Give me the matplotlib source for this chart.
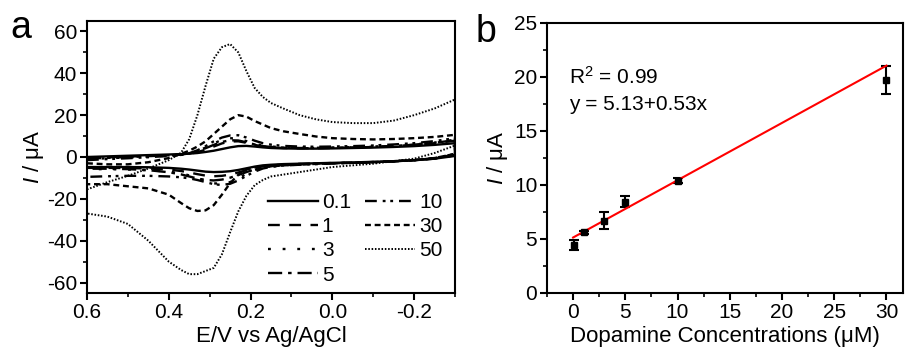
import matplotlib
matplotlib.use('Agg')
import matplotlib.pyplot as plt
from matplotlib.ticker import MultipleLocator

plt.rcParams['font.family'] = ['Liberation Sans', 'DejaVu Sans']
plt.rcParams['font.size'] = 15
plt.rcParams['axes.unicode_minus'] = False
plt.rcParams['mathtext.fontset'] = 'custom'
plt.rcParams['mathtext.rm'] = 'Liberation Sans'
plt.rcParams['mathtext.it'] = 'Liberation Sans:italic'

# ---- panel a: cyclic voltammograms (potential in V, current in uA) ----
# forward branch goes 0.6 -> -0.3, the return branch comes back the same way
e_fwd = [0.6, 0.55, 0.5, 0.45, 0.4, 0.37, 0.35, 0.33, 0.31, 0.29, 0.27, 0.25, 0.23,
         0.21, 0.19, 0.17, 0.15, 0.12, 0.08, 0.04, 0.0, -0.05, -0.1, -0.15, -0.2,
         -0.25, -0.3]
e_back = e_fwd[::-1]

upper_01 = [0, 0.3, 0.6, 0.9, 1.2, 1.4, 1.6, 1.9, 2.4, 3.0, 3.8, 4.6, 5.2, 5.3, 5.0,
            4.6, 4.3, 4.1, 4.0, 4.0, 4.1, 4.3, 4.5, 4.8, 5.2, 5.8, 6.6]
lower_01 = [0.5, -0.8, -1.5, -2.0, -2.3, -2.6, -2.8, -3.0, -3.2, -3.4, -3.7, -4.0,
            -4.6, -5.4, -6.2, -6.8, -7.1, -7.2, -7.0, -6.5, -6.0, -5.6, -5.2, -4.9,
            -4.8, -4.8, -4.8]

upper_1 = [-0.5, -0.2, 0.2, 0.5, 0.8, 1.1, 1.5, 2.3, 3.5, 5.0, 6.5, 7.4, 7.5, 6.8,
           5.8, 5.0, 4.6, 4.3, 4.2, 4.2, 4.3, 4.5, 4.8, 5.2, 5.8, 6.6, 7.8]
lower_1 = [0.8, -0.8, -1.6, -2.1, -2.4, -2.7, -2.9, -3.1, -3.3, -3.6, -4.0, -4.5,
           -5.3, -6.3, -7.4, -8.4, -9.0, -9.2, -8.9, -8.2, -7.4, -6.7, -6.0, -5.5,
           -5.3, -5.2, -5.2]

upper_3 = [-1.0, -0.6, -0.2, 0.2, 0.6, 1.0, 1.6, 2.8, 4.5, 6.5, 8.2, 9.0, 8.7, 7.6,
           6.3, 5.4, 5.0, 4.6, 4.4, 4.4, 4.5, 4.7, 5.0, 5.4, 6.0, 6.9, 8.2]
lower_3 = [1.2, -0.6, -1.5, -2.0, -2.4, -2.7, -2.9, -3.1, -3.4, -3.8, -4.3, -5.0,
           -6.2, -8.0, -10.2, -12.0, -12.8, -12.6, -11.5, -10.0, -8.8, -7.8, -7.0,
           -6.3, -6.0, -5.8, -5.8]

upper_5 = [-0.8, -0.4, 0.0, 0.4, 0.8, 1.2, 1.7, 2.7, 4.2, 5.8, 7.2, 8.0, 7.9, 7.0,
           6.0, 5.2, 4.8, 4.5, 4.3, 4.3, 4.4, 4.6, 4.9, 5.3, 5.9, 6.8, 8.0]
lower_5 = [1.0, -0.7, -1.6, -2.1, -2.5, -2.8, -3.0, -3.2, -3.5, -3.9, -4.4, -5.0,
           -6.0, -7.2, -8.6, -9.9, -10.8, -11.2, -11.0, -10.3, -9.3, -8.3, -7.3,
           -6.3, -5.8, -5.6, -5.6]

upper_10 = [-1.5, -1.0, -0.6, -0.1, 0.5, 1.0, 1.8, 3.2, 5.2, 7.5, 9.3, 10.3, 10.4,
            9.3, 7.8, 6.6, 5.9, 5.3, 5.0, 4.9, 5.0, 5.2, 5.5, 6.0, 6.6, 7.6, 9.0]
lower_10 = [1.5, -0.5, -1.5, -2.1, -2.5, -2.8, -3.1, -3.4, -3.7, -4.1, -4.7, -5.5,
            -7.0, -9.0, -11.2, -12.8, -13.4, -13.0, -12.0, -11.0, -10.2, -9.7, -9.3,
            -9.0, -9.0, -9.2, -9.5]

upper_30 = [-3.0, -3.5, -3.5, -2.5, -0.5, 1.5, 3.0, 5.0, 7.5, 11.0, 14.5, 18.0, 20.0,
            19.3, 17.2, 15.5, 13.8, 12.3, 11.0, 9.8, 9.0, 8.6, 8.4, 8.6, 9.0, 9.6,
            10.6]
lower_30 = [1.5, -0.5, -1.5, -2.0, -2.5, -2.8, -3.0, -3.3, -3.6, -4.0, -4.5, -4.8,
            -5.0, -6.0, -8.5, -12.5, -18.0, -23.0, -25.5, -25.8, -24.5, -22.0,
            -18.0, -15.0, -14.0, -13.0, -13.0]

upper_50 = [-15.5, -12.0, -9.0, -5.5, -1.5, 2.0, 8.5, 20.0, 34.0, 47.0, 52.5, 54.0,
            50.0, 41.0, 33.0, 28.7, 25.8, 23.2, 20.0, 18.0, 16.7, 16.2, 16.2, 17.4,
            20.0, 23.2, 27.5]
lower_50 = [5.5, 1.9, -0.8, -2.0, -3.2, -4.0, -4.8, -6.0, -7.2, -8.4, -9.3, -11.0,
            -13.5, -18.5, -26.0, -36.0, -46.5, -53.0, -54.5, -56.0, -56.0, -54.0,
            -50.0, -40.0, -32.0, -28.5, -27.0]

cv_labels = ['0.1', '1', '3', '5', '10', '30', '50']
cv_upper = [upper_01, upper_1, upper_3, upper_5, upper_10, upper_30, upper_50]
cv_lower = [lower_01, lower_1, lower_3, lower_5, lower_10, lower_30, lower_50]

# ---- panel b: calibration ----
conc = [0.1, 1, 3, 5, 10, 30]
current = [4.45, 5.6, 6.7, 8.45, 10.4, 19.7]
current_err = [0.45, 0.15, 0.8, 0.5, 0.2, 1.3]
fit_intercept = 5.13
fit_slope = 0.53
fit_x = [0, 30]

styles = [
    dict(linestyle='-'),
    dict(linestyle=(0, (5, 4))),
    dict(linestyle=(0, (1.2, 5))),
    dict(linestyle=(0, (6, 2.5, 1.5, 2.5))),
    dict(linestyle=(0, (5, 2.5, 1.2, 2, 1.2, 2.5))),
    dict(linestyle=(0, (2.5, 1.6))),
    dict(linestyle=(0, (0.8, 0.9))),
]

fig = plt.figure(figsize=(9.05, 3.49), dpi=100)
ax1 = fig.add_axes([0.0961, 0.1605, 0.4067, 0.7793])
ax2 = fig.add_axes([0.6044, 0.1605, 0.3936, 0.7745])

for lab, up, lo, st in zip(cv_labels, cv_upper, cv_lower, styles):
    lw = 1.4 if lab == '50' else 1.7
    ax1.plot(e_fwd + e_back, up + lo, color='black', lw=lw, label=lab, **st)

ax1.set_xlim(0.6, -0.3)
ax1.set_ylim(-65, 65)
ax1.xaxis.set_major_locator(MultipleLocator(0.2))
ax1.xaxis.set_minor_locator(MultipleLocator(0.1))
ax1.yaxis.set_major_locator(MultipleLocator(20))
ax1.yaxis.set_minor_locator(MultipleLocator(10))
ax1.set_xticks([0.6, 0.4, 0.2, 0.0, -0.2])
ax1.set_xticklabels(['0.6', '0.4', '0.2', '0.0', '-0.2'])
ax1.set_xlabel('E/V vs Ag/AgCl', labelpad=3, fontsize=16)
ax1.set_ylabel(r'$I$ / μA', labelpad=1, fontsize=16)
ax1.legend(ncol=2, loc='lower right', frameon=False, handlelength=2.4,
           handletextpad=0.2, columnspacing=0.7, labelspacing=0.25,
           borderaxespad=0.0, fontsize=15, bbox_to_anchor=(0.99, 0.0))

ax2.errorbar(conc, current, yerr=current_err, fmt='s', color='black', ms=4.5,
             capsize=3.5, elinewidth=1.5, capthick=1.5)
fit_y = [fit_intercept + fit_slope * x for x in fit_x]
ax2.plot(fit_x, fit_y, color='#ff0000', lw=1.5)
ax2.set_xlim(-2.5, 31.6)
ax2.set_ylim(0, 25)
ax2.xaxis.set_major_locator(MultipleLocator(5))
ax2.xaxis.set_minor_locator(MultipleLocator(2.5))
ax2.yaxis.set_major_locator(MultipleLocator(5))
ax2.yaxis.set_minor_locator(MultipleLocator(2.5))
ax2.set_xlabel('Dopamine Concentrations (μM)', labelpad=3, fontsize=16)
ax2.set_ylabel(r'$I$ / μA', labelpad=3, fontsize=16)
ax2.text(-0.4, 20, r'R$^2$ = 0.99', fontsize=15, va='center')
ax2.text(-0.4, 17.4, 'y = 5.13+0.53x', fontsize=15, va='center')

for ax in (ax1, ax2):
    for s in ax.spines.values():
        s.set_linewidth(1.5)
    ax.tick_params(which='major', direction='out', length=5, width=1.5, pad=2,
                   labelsize=15, top=False, right=False)
    ax.tick_params(which='minor', direction='out', length=3, width=1.2,
                   top=False, right=False)

fig.text(0.012, 0.89, 'a', fontsize=27)
fig.text(0.525, 0.88, 'b', fontsize=27)

fig.savefig('out.png', dpi=100)
